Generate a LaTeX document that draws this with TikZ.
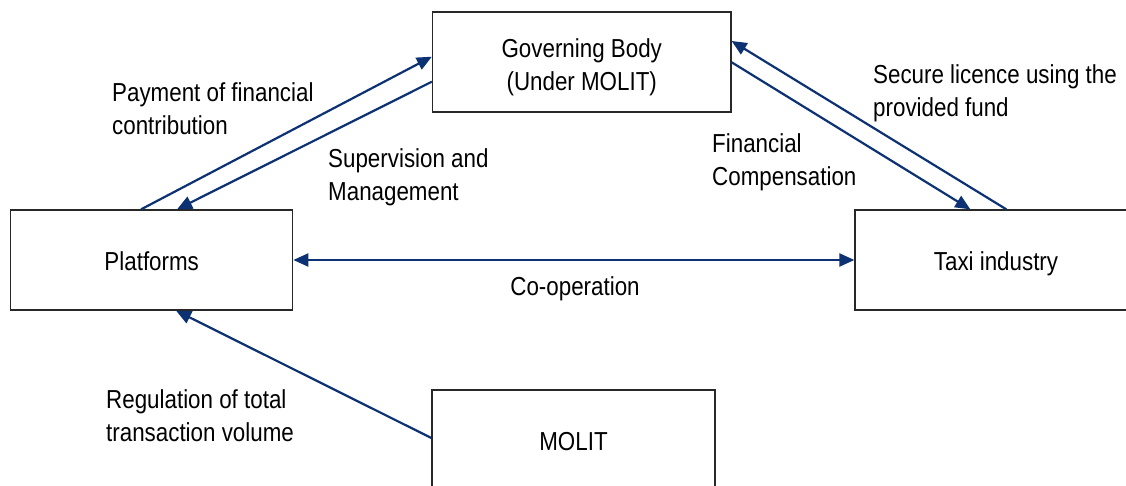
\documentclass[tikz,border=0pt]{standalone}
\usepackage{fontspec}
\setmainfont{Liberation Sans}[FakeStretch=0.86]
\usetikzlibrary{arrows.meta,calc}
\definecolor{arrowblue}{RGB}{12,50,115}
\definecolor{boxgray}{RGB}{40,40,40}
\tikzset{
  box/.style={draw=boxgray,line width=1.3pt,fill=white,minimum height=100pt,inner sep=0pt,align=center,text height=21pt,text depth=0pt,font=\fontsize{26}{33}\selectfont},
  lbl/.style={inner sep=0pt,anchor=west,align=left,font=\fontsize{26}{33}\selectfont},
  conn/.style={draw=arrowblue,line width=2.2pt,-{Triangle[length=15pt,width=13pt]}},
  conn2/.style={draw=arrowblue,line width=2.2pt,{Triangle[length=15pt,width=13pt]}-{Triangle[length=15pt,width=13pt]}}
}
\begin{document}
\begin{tikzpicture}[x=1pt,y=-1pt]
\clip (0,0) rectangle (1126,486);
\fill[white] (0,0) rectangle (1126,486);
\node[box,minimum width=298.5pt,text height=57pt] (gb) at (581.75,62) {Governing Body\\(Under MOLIT)};
\node[box,minimum width=282pt] (plat) at (151.7,260) {Platforms};
\node[box,minimum width=282pt] (taxi) at (996,260) {Taxi industry};
\node[box,minimum width=283pt] (molit) at (573.5,440) {MOLIT};

\draw[conn] ([xshift=131pt]plat.north west) -- ([yshift=5.3pt]gb.west);
\draw[conn] ([yshift=-19.7pt]gb.west) -- ([xshift=167pt]plat.north west);
\draw[conn] ([yshift=-0.3pt]gb.east) -- ([xshift=116pt]taxi.north west);
\draw[conn] ([xshift=152pt]taxi.north west) -- ([yshift=21pt]gb.east);
\draw[conn2] (plat.east) -- (taxi.west);
\draw[conn] ([yshift=2pt]molit.west) -- ([xshift=166pt]plat.south west);

\node[lbl] (l1) at (112,109) {Payment of financial\\contribution};
\node[lbl] (l2) at (328,177.5) {Supervision and\\Management};
\node[lbl] (l3) at (712,162.5) {Financial\\Compensation};
\node[lbl] (l4) at (873,93.5) {Secure licence using the\\provided fund};
\node[inner sep=0pt,font=\fontsize{26}{33}\selectfont] (l5) at (575,289) {Co-operation};
\node[lbl] (l6) at (106,415.5) {Regulation of total\\transaction volume};
\end{tikzpicture}
\end{document}
